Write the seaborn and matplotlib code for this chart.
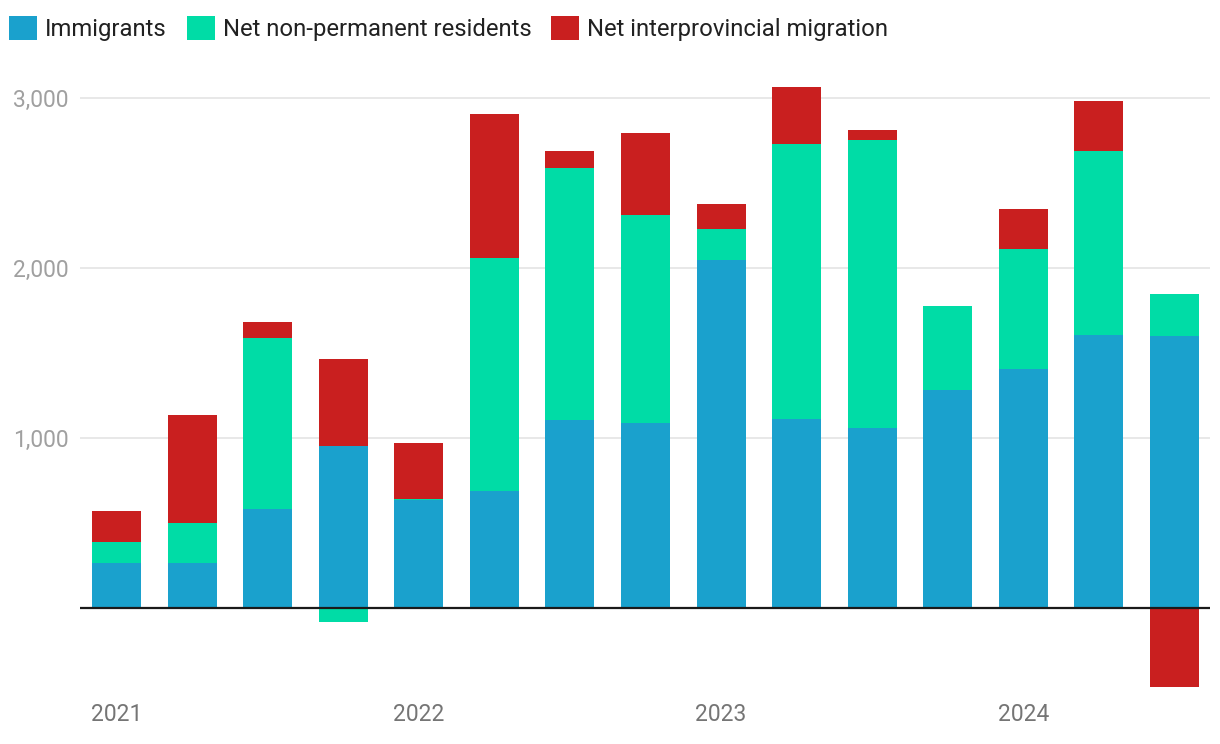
import numpy as np
import pandas as pd
import matplotlib
matplotlib.use("Agg")
import matplotlib.pyplot as plt
from matplotlib.patches import Patch
import seaborn as sns

# ---- data ----
quarters = ["2021Q1", "2021Q2", "2021Q3", "2021Q4",
            "2022Q1", "2022Q2", "2022Q3", "2022Q4",
            "2023Q1", "2023Q2", "2023Q3", "2023Q4",
            "2024Q1", "2024Q2", "2024Q3"]
immigrants = [262, 262, 579, 952, 632, 685, 1103, 1085, 2044, 1109, 1056, 1279, 1403, 1603, 1597]
net_npr = [123, 235, 1006, -85, 6, 1371, 1482, 1224, 182, 1617, 1694, 495, 706, 1082, 247]
net_interprov = [183, 635, 94, 513, 330, 847, 100, 482, 148, 336, 59, 0, 235, 294, -466]
year_ticks = [0, 4, 8, 12]
year_labels = ["2021", "2022", "2023", "2024"]
y_ticks = [1000, 2000, 3000]
y_tick_labels = ["1,000", "2,000", "3,000"]
series_names = ["Immigrants", "Net non-permanent residents", "Net interprovincial migration"]
colors = ["#1aa1cd", "#00dca6", "#c91f1f"]

sns.set_theme(style="white")
plt.rcParams["font.family"] = ["Roboto", "DejaVu Sans"]

df = pd.DataFrame({
    "quarter": quarters,
    "imm": immigrants,
    "npr": net_npr,
    "inter": net_interprov,
})

imm = np.array(immigrants, dtype=float)
npr = np.array(net_npr, dtype=float)
inter = np.array(net_interprov, dtype=float)

# stacking: positives stack upward, negatives downward
npr_bottom = np.where(npr >= 0, imm, 0.0)
pos_base = imm + np.clip(npr, 0, None)
neg_base = np.clip(npr, None, 0)
inter_bottom = np.where(inter >= 0, pos_base, neg_base)

fig = plt.figure(figsize=(12.2, 7.44), dpi=100)
ax = fig.add_axes([80 / 1220, 1 - 690 / 744, 1130 / 1220, 630 / 744])

common = dict(x="quarter", order=quarters, ax=ax, errorbar=None, saturation=1,
              width=0.65, linewidth=0, edgecolor="none", zorder=2)
sns.barplot(data=df, y="imm", color=colors[0], **common)
sns.barplot(data=df, y="npr", color=colors[1], bottom=npr_bottom, **common)
sns.barplot(data=df, y="inter", color=colors[2], bottom=inter_bottom, **common)

ax.set_xlim(-0.483, 14.47)
ax.set_ylim(-485, 3221)

ax.set_xticks(year_ticks)
ax.set_xticklabels(year_labels)
ax.set_yticks(y_ticks)
ax.set_yticklabels(y_tick_labels)
ax.set_xlabel("")
ax.set_ylabel("")

ax.tick_params(axis="y", length=0, pad=8.5, labelsize=16.5, labelcolor="#a0a0a0")
ax.tick_params(axis="x", length=0, pad=9.5, labelsize=16.5, labelcolor="#757575")

for s in ax.spines.values():
    s.set_visible(False)

ax.yaxis.grid(True, color="#e4e4e4", linewidth=1.2, zorder=0)
ax.xaxis.grid(False)
ax.set_axisbelow(True)
ax.axhline(0, color="#1a1a1a", linewidth=1.6, zorder=5)

handles = [Patch(facecolor=c, edgecolor="none", label=n) for c, n in zip(colors, series_names)]
fs = 17.2
fpx = fs * 100 / 72
fig.legend(handles=handles, loc="upper left", bbox_to_anchor=(4 / 1220, 1 - 11 / 744),
           ncol=3, frameon=False, fontsize=fs,
           handlelength=28 / fpx, handleheight=28 / fpx,
           handletextpad=8 / fpx, columnspacing=20 / fpx, borderaxespad=0,
           borderpad=0.2, labelcolor="#212121")

fig.savefig("out.png", dpi=100)
